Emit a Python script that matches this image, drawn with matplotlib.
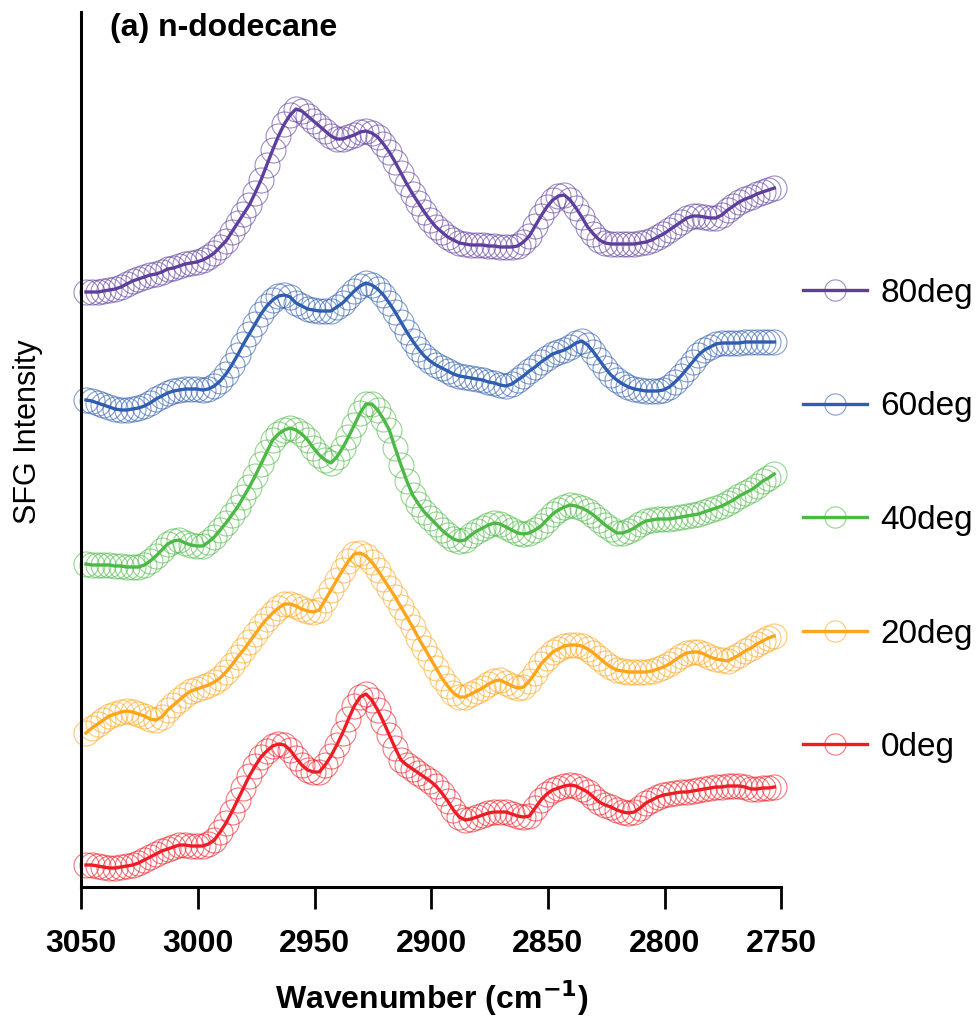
import numpy as np
import matplotlib
matplotlib.use("Agg")
import matplotlib.pyplot as plt
from matplotlib.colors import to_rgba

plt.rcParams['font.family'] = ['Liberation Sans', 'DejaVu Sans']

# Wavenumber (cm-1), read every 2.5 cm-1 from 3048 down to 2753
wavenumber = np.linspace(3048, 2753, 119)

# SFG intensities (arbitrary units, vertically offset as in the figure)
sfg_0deg = [35, 35, 34, 33, 32, 32, 33, 34, 35, 37,
            40, 43, 46, 49, 51, 53, 55, 55, 54, 54,
            54, 56, 60, 68, 77, 88, 100, 112, 124, 134,
            143, 149, 154, 156, 155, 150, 142, 135, 130, 128,
            128, 135, 144, 155, 167, 181, 194, 203, 206, 200,
            190, 178, 165, 152, 140, 135, 131, 127, 123, 119,
            114, 107, 99, 90, 83, 80, 81, 83, 85, 87,
            88, 88, 88, 86, 84, 83, 84, 92, 100, 106,
            110, 112, 114, 115, 114, 111, 108, 103, 98, 95,
            93, 90, 88, 87, 88, 92, 97, 100, 103, 105,
            106, 107, 108, 108, 109, 110, 111, 112, 113, 113,
            114, 114, 114, 113, 111, 111, 112, 112, 113]
sfg_20deg = [167, 172, 176, 180, 184, 186, 188, 189, 188, 186,
             184, 181, 180, 183, 190, 195, 200, 205, 209, 211,
             213, 215, 218, 222, 228, 235, 243, 250, 258, 266,
             274, 281, 287, 292, 296, 296, 294, 291, 289, 288,
             290, 300, 310, 320, 330, 339, 346, 347, 344, 338,
             330, 321, 312, 303, 293, 283, 273, 262, 252, 242,
             232, 222, 214, 207, 203, 203, 206, 209, 212, 216,
             219, 220, 217, 214, 212, 213, 219, 227, 236, 242,
             248, 251, 254, 255, 255, 254, 251, 247, 242, 237,
             233, 230, 229, 228, 228, 228, 228, 229, 231, 233,
             236, 240, 244, 247, 248, 248, 246, 243, 241, 240,
             239, 242, 245, 249, 252, 256, 259, 262, 264]
sfg_40deg = [336, 335, 335, 335, 335, 334, 334, 333, 333, 333,
             335, 339, 344, 350, 356, 359, 360, 357, 355, 354,
             354, 358, 363, 370, 377, 385, 393, 403, 413, 424,
             436, 448, 460, 466, 470, 472, 470, 466, 460, 452,
             445, 440, 437, 443, 452, 463, 475, 487, 496, 496,
             490, 481, 470, 452, 435, 419, 405, 396, 388, 382,
             376, 370, 365, 361, 359, 360, 365, 369, 372, 375,
             377, 376, 373, 370, 367, 366, 367, 370, 374, 380,
             386, 390, 393, 395, 394, 392, 389, 385, 380, 375,
             371, 367, 367, 369, 372, 376, 379, 380, 381, 381,
             381, 382, 383, 384, 385, 386, 388, 390, 392, 394,
             397, 400, 404, 407, 410, 414, 419, 422, 426]
sfg_60deg = [500, 499, 497, 495, 493, 491, 490, 490, 491, 492,
             494, 497, 501, 504, 507, 509, 510, 511, 511, 511,
             510, 511, 514, 519, 526, 535, 545, 556, 566, 576,
             586, 594, 600, 604, 605, 603, 597, 594, 591, 590,
             589, 589, 589, 593, 597, 603, 609, 614, 617, 615,
             611, 605, 597, 588, 578, 568, 559, 551, 544, 539,
             535, 532, 529, 526, 524, 523, 522, 521, 520, 518,
             517, 515, 514, 516, 520, 524, 529, 533, 538, 542,
             546, 548, 550, 553, 557, 559, 555, 548, 540, 532,
             525, 520, 516, 513, 511, 510, 509, 509, 509, 510,
             513, 518, 524, 531, 538, 545, 550, 553, 556, 557,
             557, 557, 557, 558, 558, 558, 558, 558, 558]
sfg_80deg = [608, 608, 608, 609, 610, 611, 613, 616, 619, 621,
             623, 625, 626, 628, 631, 632, 634, 636, 637, 638,
             640, 643, 647, 653, 659, 668, 677, 686, 695, 707,
             720, 735, 750, 764, 776, 785, 791, 789, 784, 779,
             774, 769, 764, 761, 761, 763, 765, 768, 769, 767,
             763, 756, 748, 738, 727, 716, 706, 697, 688, 680,
             673, 668, 663, 660, 657, 656, 655, 655, 655, 654,
             654, 653, 653, 653, 654, 658, 664, 674, 684, 693,
             700, 704, 705, 700, 692, 683, 673, 666, 660, 657,
             656, 656, 656, 656, 656, 657, 658, 660, 663, 666,
             670, 674, 678, 682, 684, 684, 683, 682, 682, 685,
             690, 694, 698, 701, 703, 706, 708, 710, 712]

labels = ["0deg", "20deg", "40deg", "60deg", "80deg"]
series = [sfg_0deg, sfg_20deg, sfg_40deg, sfg_60deg, sfg_80deg]
colors = ["#EE1C25", "#FFA51C", "#4CB944", "#2F5DAF", "#5E3F9E"]

fig = plt.figure(figsize=(9.78, 10.23), dpi=100)
ax = fig.add_axes([81.3 / 978, 136 / 1023, 700 / 978, 875 / 1023])

handles = []
for y, c, lab in zip(series, colors, labels):
    edge = to_rgba(c, 0.6)
    h, = ax.plot(wavenumber, y, color=c, lw=2.4, marker='o', markersize=18,
                 markerfacecolor='none', markeredgecolor=edge,
                 markeredgewidth=0.8, label=lab, clip_on=False)
    handles.append(h)

ax.set_xlim(3050, 2750)
ax.set_ylim(13, 888)
ax.set_xticks([3050, 3000, 2950, 2900, 2850, 2800, 2750])
ax.set_yticks([])
for s in ['top', 'right']:
    ax.spines[s].set_visible(False)
ax.spines['left'].set_linewidth(2.2)
ax.spines['bottom'].set_linewidth(2.2)
ax.tick_params(axis='x', direction='out', length=16, width=2.0, pad=14,
               labelsize=23)
for t in ax.get_xticklabels():
    t.set_fontweight('bold')

ax.set_xlabel("Wavenumber (cm$^{\\mathbf{-1}}$)", fontsize=23,
              fontweight='bold', labelpad=14)
ax.set_ylabel("SFG Intensity", fontsize=22)
ax.yaxis.set_label_coords(-0.055, 0.52)

fig.text(110 / 978, 1 - 28 / 1023, "(a) n-dodecane", fontsize=23,
         fontweight='bold', va='center', ha='left')

leg = fig.legend(handles[::-1], labels[::-1], loc='upper left',
                 bbox_to_anchor=(803 / 978, 1 - 278 / 1023),
                 frameon=False, fontsize=24, handlelength=1.92,
                 handletextpad=0.4, labelspacing=2.475, borderpad=0,
                 borderaxespad=0, markerscale=0.85)

fig.savefig("out.png", dpi=100)
